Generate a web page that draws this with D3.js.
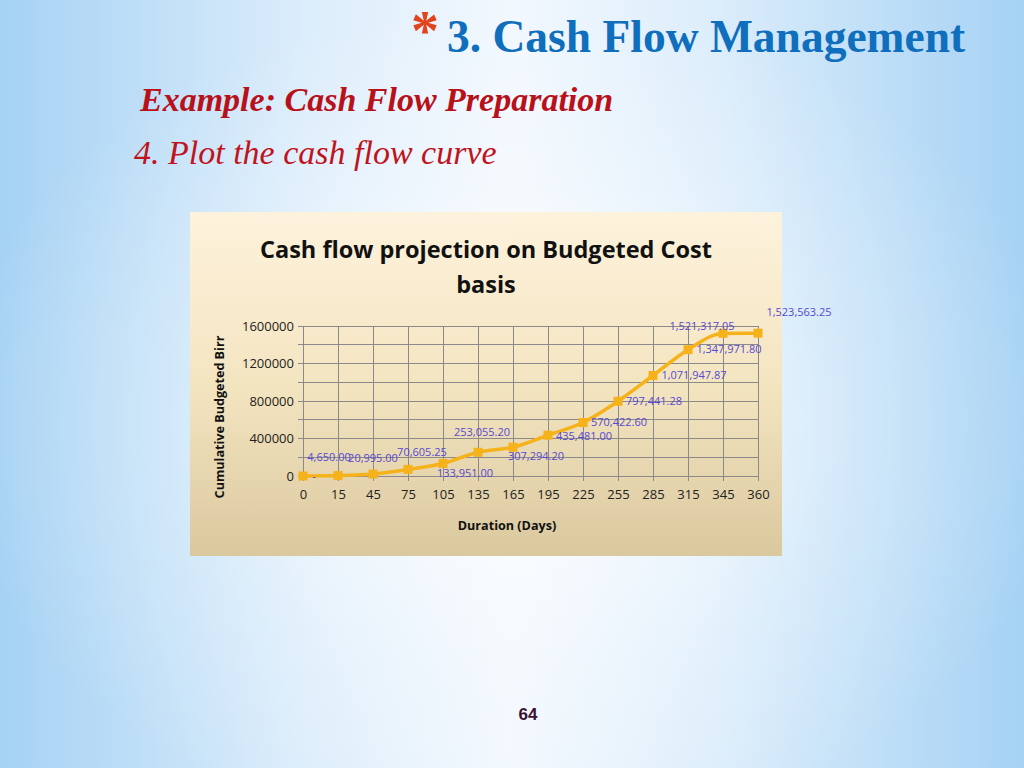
<!DOCTYPE html>
<html>
<head>
<meta charset="utf-8">
<script src="https://cdn.jsdelivr.net/npm/d3@7"></script>
<style>
  html, body { margin: 0; padding: 0; width: 1024px; height: 768px; overflow: hidden; }
  svg { display: block; }
</style>
</head>
<body>
<svg id="chart" width="1024" height="768"></svg>
<script>
// ---- data ----
const days = ["0", "15", "45", "75", "105", "135", "165", "195", "225", "255", "285", "315", "345", "360"];
const cumulativeBirr = [0, 4650.00, 20995.00, 70605.25, 133951.00, 253055.20, 307294.20, 435481.00,
  570422.60, 797441.28, 1071947.87, 1347971.80, 1521317.05, 1523563.25];
const yTicks = [0, 400000, 800000, 1200000, 1600000];
const yMinorTicks = [200000, 600000, 1000000, 1400000];

// label placement (offset of label centre from its point), presentation only
const labelOffsets = [[11, 0], [-9, -18], [0, -16], [14, -17], [22, 10], [4, -20], [23, 9], [36, 1],
  [36, 0], [36, 0], [41, 0], [41, 0], [-21, -7], [41, -21]];

const svg = d3.select("#chart");
const defs = svg.append("defs");

// slide background
const bgH = defs.append("linearGradient").attr("id", "bgH").attr("x1", 0).attr("x2", 1).attr("y1", 0).attr("y2", 0);
bgH.append("stop").attr("offset", "0").attr("stop-color", "#a6d2f4");
bgH.append("stop").attr("offset", "0.3").attr("stop-color", "#dcedfb");
bgH.append("stop").attr("offset", "0.5").attr("stop-color", "#f2f8fe");
bgH.append("stop").attr("offset", "0.7").attr("stop-color", "#dcedfb");
bgH.append("stop").attr("offset", "1").attr("stop-color", "#a6d2f4");
const bgR = defs.append("radialGradient").attr("id", "bgR").attr("cx", "0.5").attr("cy", "0.55").attr("r", "0.55");
bgR.append("stop").attr("offset", "0").attr("stop-color", "#ffffff").attr("stop-opacity", 0.85);
bgR.append("stop").attr("offset", "0.6").attr("stop-color", "#ffffff").attr("stop-opacity", 0.25);
bgR.append("stop").attr("offset", "1").attr("stop-color", "#ffffff").attr("stop-opacity", 0);

svg.append("rect").attr("width", 1024).attr("height", 768).attr("fill", "url(#bgH)");
svg.append("rect").attr("width", 1024).attr("height", 768).attr("fill", "url(#bgR)");

// headings
svg.append("text").attr("x", 411).attr("y", 50)
  .attr("font-family", "'Liberation Serif', serif").attr("font-size", 56).attr("font-weight", "bold")
  .attr("fill", "#e2451c").text("*");
svg.append("text").attr("x", 447).attr("y", 52)
  .attr("font-family", "'Liberation Serif', serif").attr("font-size", 45.5).attr("font-weight", "bold")
  .attr("fill", "#0f6fbd").text("3. Cash Flow Management");
svg.append("text").attr("x", 140).attr("y", 111)
  .attr("font-family", "'Liberation Serif', serif").attr("font-size", 34).attr("font-weight", "bold")
  .attr("font-style", "italic").attr("fill", "#b8111a").text("Example: Cash Flow Preparation");
svg.append("text").attr("x", 134).attr("y", 164)
  .attr("font-family", "'Liberation Serif', serif").attr("font-size", 34)
  .attr("font-style", "italic").attr("fill", "#c0141c").text("4. Plot the cash flow curve");

// page number
svg.append("text").attr("x", 528).attr("y", 720).attr("text-anchor", "middle")
  .attr("font-family", "'Liberation Sans Narrow', 'Liberation Sans', Arial, sans-serif").attr("font-size", 17).attr("font-weight", "bold")
  .attr("fill", "#3b1133").text("64");

// chart panel
const panelG = defs.append("linearGradient").attr("id", "panelG").attr("x1", 0).attr("x2", 0).attr("y1", 0).attr("y2", 1);
panelG.append("stop").attr("offset", "0").attr("stop-color", "#fdf2dc");
panelG.append("stop").attr("offset", "0.5").attr("stop-color", "#f4e5c1");
panelG.append("stop").attr("offset", "1").attr("stop-color", "#dac89e");
svg.append("rect").attr("x", 190).attr("y", 212).attr("width", 592).attr("height", 344).attr("fill", "url(#panelG)");

// chart title
const title = svg.append("text").attr("text-anchor", "middle")
  .attr("font-family", "'Open Sans', sans-serif").attr("font-size", 23.5).attr("font-weight", "bold").attr("fill", "#111");
title.append("tspan").attr("x", 486).attr("y", 258).text("Cash flow projection on Budgeted Cost");
title.append("tspan").attr("x", 486).attr("y", 293).text("basis");

// plot
const plot = { left: 303, right: 758, top: 326, bottom: 476 };
const x = d3.scalePoint().domain(days).range([plot.left, plot.right]).padding(0);
const y = d3.scaleLinear().domain([0, 1600000]).range([plot.bottom, plot.top]);

const grid = svg.append("g");
grid.selectAll("line.h").data(yTicks.concat(yMinorTicks)).join("line")
  .attr("x1", plot.left - 5).attr("x2", plot.right)
  .attr("y1", d => y(d)).attr("y2", d => y(d))
  .attr("stroke", "#8a8a8a").attr("stroke-width", 1).attr("shape-rendering", "crispEdges");
grid.selectAll("line.v").data(days).join("line")
  .attr("x1", d => x(d)).attr("x2", d => x(d))
  .attr("y1", plot.top).attr("y2", plot.bottom + 5)
  .attr("stroke", "#8a8a8a").attr("stroke-width", 1).attr("shape-rendering", "crispEdges");

// axes (labels only, via d3 axis)
const yAxis = svg.append("g").attr("transform", `translate(${plot.left},0)`)
  .call(d3.axisLeft(y).tickValues(yTicks).tickFormat(d3.format("d")).tickSize(0).tickPadding(9));
const xAxis = svg.append("g").attr("transform", `translate(0,${plot.bottom})`)
  .call(d3.axisBottom(x).tickSize(0).tickPadding(14));
[yAxis, xAxis].forEach(a => {
  a.select(".domain").remove();
  a.selectAll("text").attr("font-family", "'Open Sans', sans-serif").attr("font-size", 13).attr("fill", "#222");
});

// axis titles
svg.append("text").attr("transform", "translate(224,417) rotate(-90)").attr("text-anchor", "middle")
  .attr("font-family", "'Open Sans', sans-serif").attr("font-size", 12.6).attr("font-weight", "bold")
  .attr("fill", "#111").text("Cumulative Budgeted Birr");
svg.append("text").attr("x", 507).attr("y", 530).attr("text-anchor", "middle")
  .attr("font-family", "'Open Sans', sans-serif").attr("font-size", 12.6).attr("font-weight", "bold")
  .attr("fill", "#111").text("Duration (Days)");

// line
const pts = days.map((d, i) => ({ d, v: cumulativeBirr[i], i }));
svg.append("path").datum(pts)
  .attr("d", d3.line().x(p => x(p.d)).y(p => y(p.v)).curve(d3.curveMonotoneX))
  .attr("fill", "none").attr("stroke", "#f6b21a").attr("stroke-width", 3.5).attr("stroke-linejoin", "round");

svg.selectAll("rect.mk").data(pts).join("rect").attr("class", "mk")
  .attr("x", p => x(p.d) - 4.5).attr("y", p => y(p.v) - 4.5).attr("width", 9).attr("height", 9)
  .attr("fill", "#f6b21a");

// data labels
const fmt = d3.format(",.2f");
svg.selectAll("text.lbl").data(pts).join("text").attr("class", "lbl")
  .attr("x", p => x(p.d) + labelOffsets[p.i][0])
  .attr("y", p => y(p.v) + labelOffsets[p.i][1])
  .attr("dy", "0.35em").attr("text-anchor", "middle")
  .attr("font-family", "'Open Sans', sans-serif").attr("font-size", 11)
  .attr("fill", "#5549d2")
  .text(p => p.v === 0 ? "-" : fmt(p.v));
</script>
</body>
</html>
